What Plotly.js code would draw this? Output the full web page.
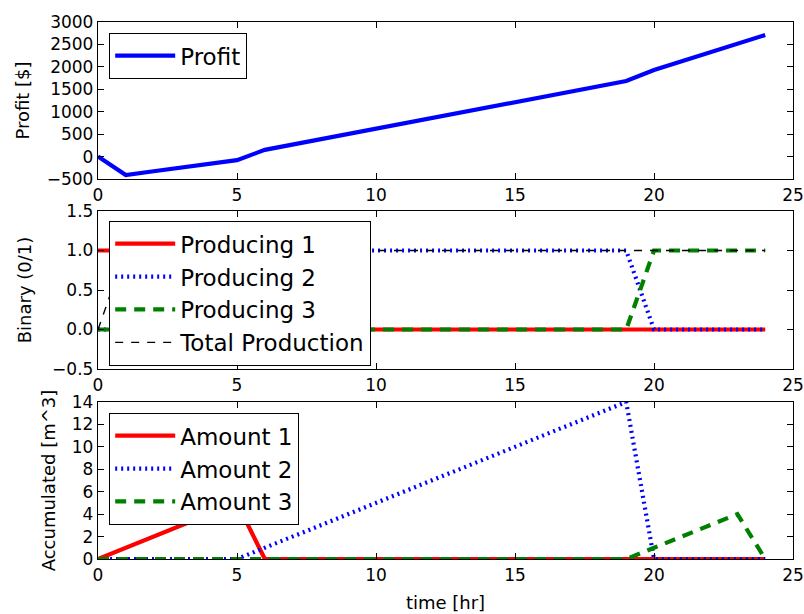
<!DOCTYPE html>
<html><head><meta charset="utf-8">
<script src="https://cdn.plot.ly/plotly-3.0.1.min.js"></script>
<style>html,body{margin:0;padding:0;background:#fff}</style>
</head><body>
<div id="chart" style="width:804px;height:614px"></div>
<script>
// time axis [hr]
const time = [0,1,2,3,4,5,6,7,8,9,10,11,12,13,14,15,16,17,18,19,20,21,22,23,24];
// profit [$]
const profit = [0,-410,-327,-245,-163,-80,150,268,386,504,622,740,858,976,1094,1212,1330,1448,1566,1684,1930,2125,2320,2515,2710];
// binary production states
const producing1 = [1,1,1,1,1,1,0,0,0,0,0,0,0,0,0,0,0,0,0,0,0,0,0,0,0];
const producing2 = [0,0,0,0,0,0,1,1,1,1,1,1,1,1,1,1,1,1,1,1,0,0,0,0,0];
const producing3 = [0,0,0,0,0,0,0,0,0,0,0,0,0,0,0,0,0,0,0,0,1,1,1,1,1];
const totalProduction = [0,1,1,1,1,1,1,1,1,1,1,1,1,1,1,1,1,1,1,1,1,1,1,1,1];
// accumulated amounts [m^3]
const amount1 = [0,1,2,3,4,5,0,0,0,0,0,0,0,0,0,0,0,0,0,0,0,0,0,0,0];
const amount2 = [0,0,0,0,0,0,1,2,3,4,5,6,7,8,9,10,11,12,13,14,0,0,0,0,0];
const amount3 = [0,0,0,0,0,0,0,0,0,0,0,0,0,0,0,0,0,0,0,0,1,2,3,4,0];

const xTicks = [0,5,10,15,20,25];
const FONT = 'DejaVu Sans';
const TICK = 17, LAB = 18, LEG = 23;
const BLUE = '#0000ff', RED = '#ff0000', GREEN = '#008000';
const LW = 4.2;

const traces = [
  {x: time, y: profit, name: 'Profit', mode: 'lines', xaxis: 'x', yaxis: 'y', legend: 'legend',
   line: {color: BLUE, width: LW}},
  {x: time, y: producing1, name: 'Producing 1', mode: 'lines', xaxis: 'x2', yaxis: 'y2', legend: 'legend2', legendgroup: 'a',
   line: {color: RED, width: LW}},
  {x: time, y: producing2, name: 'Producing 2', mode: 'lines', xaxis: 'x2', yaxis: 'y2', legend: 'legend2', legendgroup: 'b',
   line: {color: BLUE, width: LW, dash: '2px,4px'}},
  {x: time, y: producing3, name: 'Producing 3', mode: 'lines', xaxis: 'x2', yaxis: 'y2', legend: 'legend2', legendgroup: 'c',
   line: {color: GREEN, width: LW, dash: '11px,8px'}},
  {x: time, y: totalProduction, name: 'Total Production', mode: 'lines', xaxis: 'x2', yaxis: 'y2', legend: 'legend2', legendgroup: 'd',
   line: {color: '#000000', width: 1.4, dash: '8px,8px'}},
  {x: time, y: amount1, name: 'Amount 1', mode: 'lines', xaxis: 'x3', yaxis: 'y3', legend: 'legend3', legendgroup: 'a',
   line: {color: RED, width: LW}},
  {x: time, y: amount2, name: 'Amount 2', mode: 'lines', xaxis: 'x3', yaxis: 'y3', legend: 'legend3', legendgroup: 'b',
   line: {color: BLUE, width: LW, dash: '2px,4px'}},
  {x: time, y: amount3, name: 'Amount 3', mode: 'lines', xaxis: 'x3', yaxis: 'y3', legend: 'legend3', legendgroup: 'c',
   line: {color: GREEN, width: LW, dash: '11px,8px'}}
];

function xAxis(anchor, title) {
  const a = {
    domain: [0, 1], anchor: anchor, range: [0, 25], tickvals: xTicks,
    ticks: 'inside', ticklen: 6, tickcolor: '#000', tickwidth: 1,
    showline: true, linecolor: '#000', linewidth: 1.2, mirror: 'ticks',
    showgrid: false, zeroline: false,
    tickfont: {family: FONT, size: TICK, color: '#000'}
  };
  if (title) a.title = {text: title, font: {family: FONT, size: LAB, color: '#000'}, standoff: 12};
  return a;
}
function yAxis(anchor, domain, range, dtick, title, fmt, standoff) {
  const a = {
    domain: domain, anchor: anchor, range: range, dtick: dtick, tick0: 0,
    ticks: 'inside', ticklen: 6, tickcolor: '#000', tickwidth: 1,
    showline: true, linecolor: '#000', linewidth: 1.2, mirror: 'ticks',
    showgrid: false, zeroline: false,
    tickfont: {family: FONT, size: TICK, color: '#000'},
    title: {text: title, font: {family: FONT, size: LAB, color: '#000'}, standoff: standoff}
  };
  if (fmt) a.tickformat = fmt;
  return a;
}
function legendBox(y) {
  return {x: 0.0158, y: y, xanchor: 'left', yanchor: 'top',
    bordercolor: '#000', borderwidth: 1.2, bgcolor: '#fff',
    font: {family: FONT, size: LEG, color: '#000'},
    itemwidth: 60, tracegroupgap: 1, traceorder: 'normal'};
}

const layout = {
  width: 804, height: 614,
  margin: {l: 98, r: 11, t: 22, b: 55},
  paper_bgcolor: '#fff', plot_bgcolor: '#fff',
  font: {family: FONT, color: '#000'},
  xaxis: xAxis('y'),
  yaxis: yAxis('x', [0.7076, 1], [-500, 3000], 500, 'Profit [$]', null, 12),
  xaxis2: xAxis('y2'),
  yaxis2: yAxis('x2', [0.3538, 0.648], [-0.5, 1.5], 0.5, 'Binary (0/1)', '.1f', 15),
  xaxis3: xAxis('y3', 'time [hr]'),
  yaxis3: yAxis('x3', [0, 0.2924], [0, 14], 2, 'Accumulated [m^3]', null, 11),
  legend: legendBox(0.9795),
  legend2: legendBox(0.6294),
  legend3: legendBox(0.2719),
  showlegend: true
};

Plotly.newPlot('chart', traces, layout, {staticPlot: true, displayModeBar: false});
</script>
</body></html>
